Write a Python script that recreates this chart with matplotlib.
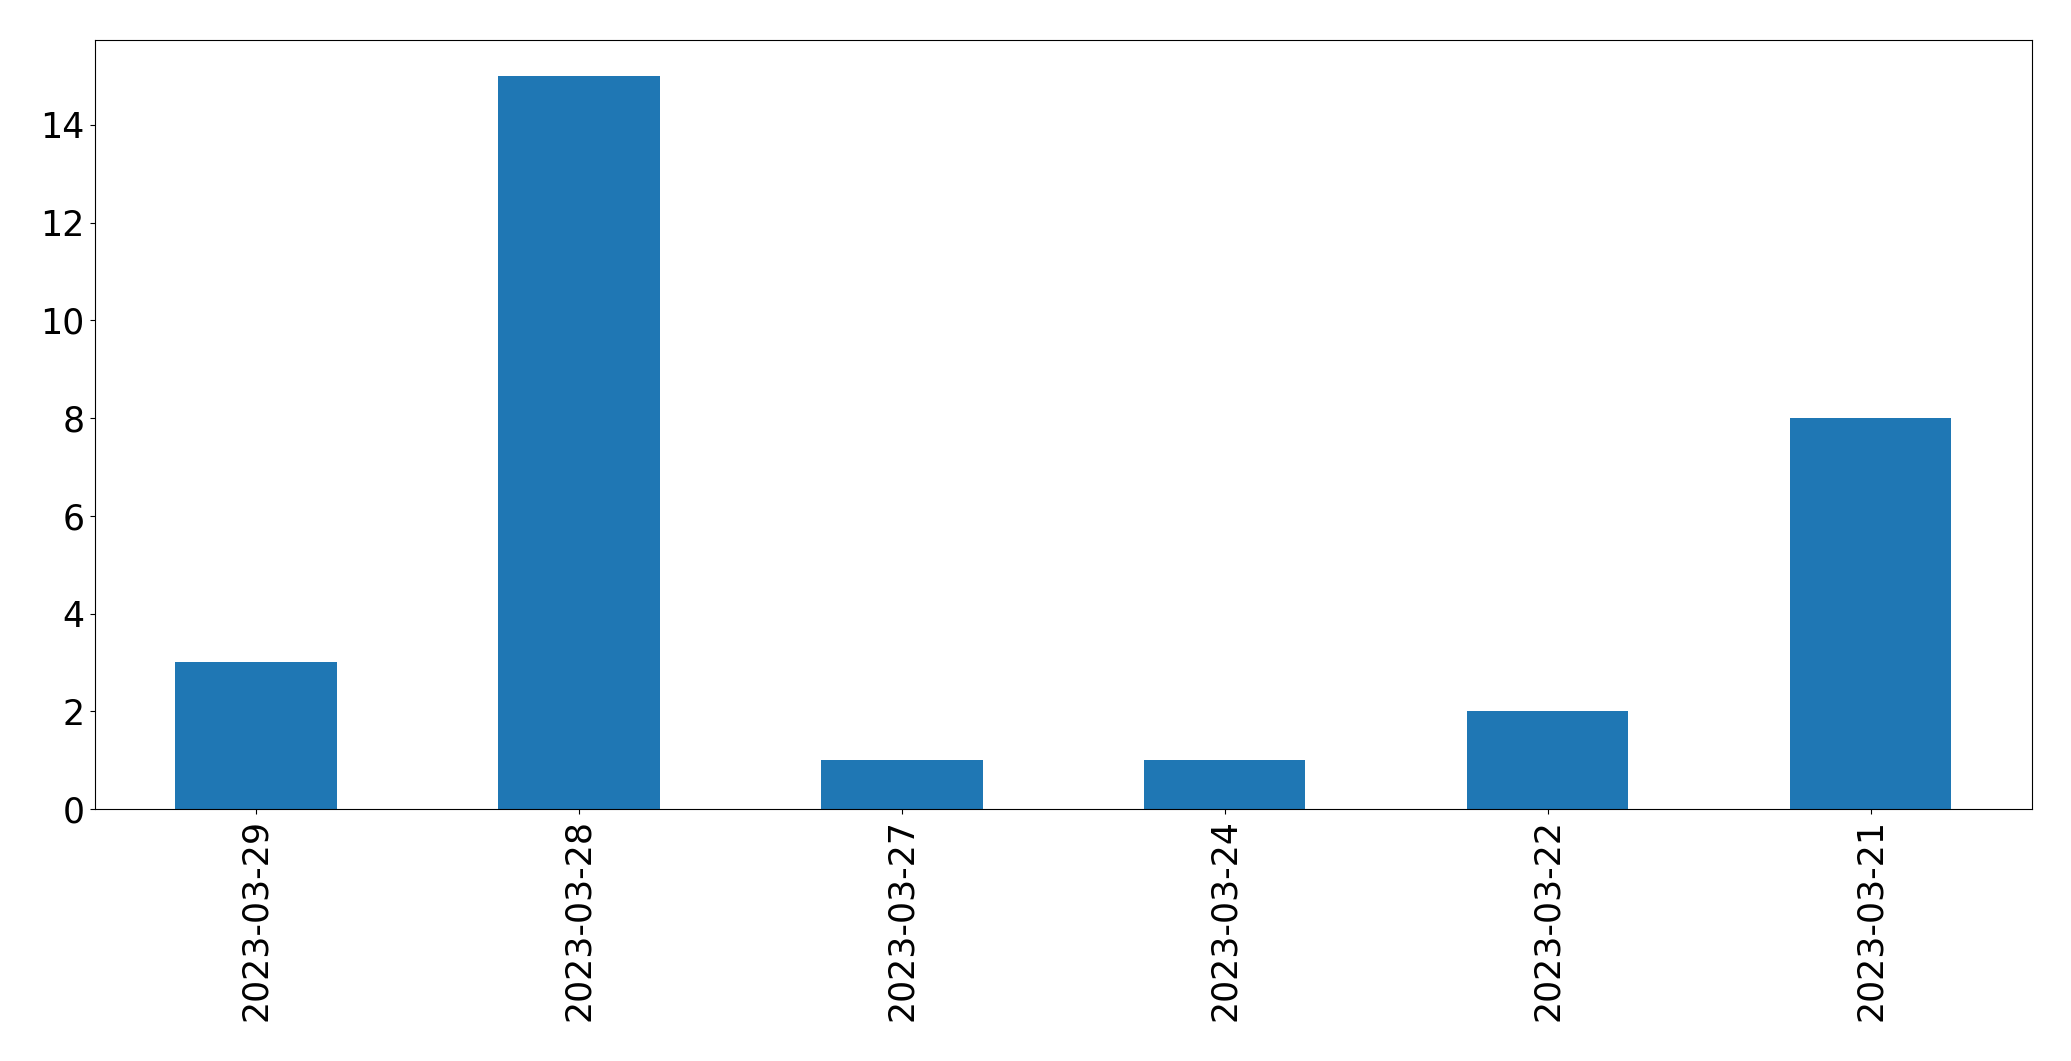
import matplotlib.pyplot as plt

dates = ["2023-03-29", "2023-03-28", "2023-03-27", "2023-03-24", "2023-03-22", "2023-03-21"]
counts = [3, 15, 1, 1, 2, 8]

fig = plt.figure(figsize=(20.71, 10.61), dpi=100)
ax = fig.add_axes([94.5 / 2071, 1 - 809 / 1061, (2032 - 94.5) / 2071, (809 - 39.5) / 1061])

x = range(len(dates))
ax.bar(x, counts, width=0.5, color="#1f77b4")
ax.set_xlim(-0.5, len(dates) - 0.5)
ax.set_ylim(0, max(counts) * 1.05)
ax.set_xticks(list(x))
ax.set_xticklabels(dates, rotation=90)
ax.tick_params(axis="both", labelsize=25)

fig.savefig("out.png", dpi=100)
